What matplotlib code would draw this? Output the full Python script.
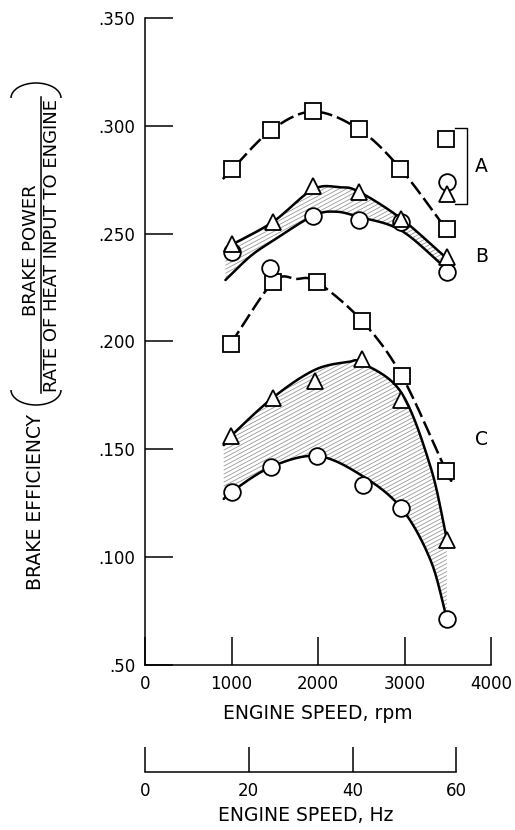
import numpy as np
import matplotlib
matplotlib.use('Agg')
import matplotlib.pyplot as plt
from matplotlib.patches import Arc
from matplotlib.lines import Line2D
from matplotlib.collections import LineCollection

plt.rcParams['font.family'] = ['DejaVu Sans']

# --- measured points (engine speed rpm, brake efficiency) ---
rpm_a_sq = [1010, 1460, 1940, 2470, 2950, 3490]
eff_a_sq = [0.280, 0.298, 0.307, 0.2985, 0.280, 0.252]

rpm_b_tri = [1010, 1480, 1940, 2470, 2960, 3490]
eff_b_tri = [0.245, 0.2555, 0.272, 0.2695, 0.257, 0.239]

rpm_b_cir = [1010, 1940, 2470, 2960, 3490]
eff_b_cir = [0.2415, 0.258, 0.2565, 0.2555, 0.232]

rpm_extra_cir = [1450]
eff_extra_cir = [0.234]

rpm_c_sq = [990, 1480, 1990, 2510, 2970, 3480]
eff_c_sq = [0.199, 0.2275, 0.2275, 0.2095, 0.184, 0.140]

rpm_c_tri = [990, 1480, 1960, 2510, 2960, 3490]
eff_c_tri = [0.156, 0.174, 0.1815, 0.192, 0.173, 0.108]

rpm_c_cir = [1000, 1460, 1990, 2520, 2960, 3490]
eff_c_cir = [0.130, 0.142, 0.147, 0.1335, 0.123, 0.0715]

# --- faired curves ---
curve_a_rpm = [900, 1010, 1460, 1940, 2470, 2950, 3490, 3560]
curve_a_eff = [0.2753, 0.280, 0.298, 0.3066, 0.2985, 0.2803, 0.2517, 0.2485]

curve_b_up_rpm = [930, 1010, 1480, 1940, 2250, 2470, 2960, 3490]
curve_b_up_eff = [0.2425, 0.245, 0.2555, 0.2705, 0.2715, 0.2695, 0.257, 0.2385]

curve_b_low_rpm = [930, 1214, 1470, 1940, 2200, 2470, 2960, 3490]
curve_b_low_eff = [0.2285, 0.2394, 0.2465, 0.2582, 0.2602, 0.2578, 0.2515, 0.2335]

curve_c_sq_rpm = [990, 1480, 1750, 1990, 2510, 2970, 3480, 3546]
curve_c_sq_eff = [0.199, 0.2275, 0.229, 0.2275, 0.2095, 0.184, 0.140, 0.1358]

curve_c_up_rpm = [910, 990, 1480, 1960, 2350, 2510, 2960, 3300, 3490]
curve_c_up_eff = [0.152, 0.156, 0.174, 0.1868, 0.1905, 0.190, 0.1765, 0.1420, 0.1083]

curve_c_low_rpm = [910, 1000, 1460, 1990, 2500, 2960, 3300, 3490]
curve_c_low_eff = [0.127, 0.1303, 0.1419, 0.1469, 0.138, 0.1229, 0.0987, 0.0713]

yticks = [0.05, 0.10, 0.15, 0.20, 0.25, 0.30, 0.35]
ytick_labels = ['.50', '.100', '.150', '.200', '.250', '.300', '.350']
xticks = [0, 1000, 2000, 3000, 4000]
hz_ticks = [0, 20, 40, 60]

W, H = 515, 830
FS_TICK = 12
FS_LAB = 13.5
FS_FRAC = 13


def fx(x):
    return x / W


def fy(y):
    return 1 - y / H


def smooth(xs, ys, n=30):
    # Catmull-Rom through the traced points
    p = np.column_stack([xs, ys]).astype(float)
    p = np.vstack([2 * p[0] - p[1], p, 2 * p[-1] - p[-2]])
    t = np.linspace(0, 1, n, endpoint=False)[:, None]
    out = []
    for i in range(1, len(p) - 2):
        p0, p1, p2, p3 = p[i - 1], p[i], p[i + 1], p[i + 2]
        out.append(0.5 * (2 * p1 + (-p0 + p2) * t
                          + (2 * p0 - 5 * p1 + 4 * p2 - p3) * t ** 2
                          + (-p0 + 3 * p1 - 3 * p2 + p3) * t ** 3))
    out.append(p[-2][None])
    out = np.vstack(out)
    return out[:, 0], out[:, 1]


fig = plt.figure(figsize=(W / 100, H / 100), dpi=100)
fig.patch.set_facecolor('white')
ax = fig.add_axes([fx(145), fy(665), 346 / W, 647 / H])


def hatch_region(upper, lower):
    x1, y1 = smooth(*upper)
    x2, y2 = smooth(*lower)
    poly = ax.fill(np.r_[x1, x2[::-1]], np.r_[y1, y2[::-1]],
                   facecolor='none', edgecolor='none')[0]
    slope = 346 / 647 * np.tan(np.radians(28))
    offs = np.arange(-1.0, 1.2, 4 / 647)
    segs = [[(0, c), (1, c + slope)] for c in offs]
    lc = LineCollection(segs, colors='#9a9a9a', linewidths=0.6,
                        transform=ax.transAxes, zorder=1)
    ax.add_collection(lc)
    lc.set_clip_path(poly)


hatch_region((curve_b_up_rpm, curve_b_up_eff), (curve_b_low_rpm, curve_b_low_eff))
hatch_region((curve_c_up_rpm, curve_c_up_eff), (curve_c_low_rpm, curve_c_low_eff))

dash = (0, (6, 2))
for cx, cy, ls in [(curve_a_rpm, curve_a_eff, dash),
                   (curve_c_sq_rpm, curve_c_sq_eff, dash),
                   (curve_b_up_rpm, curve_b_up_eff, '-'),
                   (curve_b_low_rpm, curve_b_low_eff, '-'),
                   (curve_c_up_rpm, curve_c_up_eff, '-'),
                   (curve_c_low_rpm, curve_c_low_eff, '-')]:
    sx, sy = smooth(cx, cy)
    ax.plot(sx, sy, color='black', lw=1.8, linestyle=ls, zorder=2,
            solid_capstyle='round')

mk = dict(mfc='white', mec='black', mew=1.3, linestyle='none', zorder=3,
          clip_on=False)
ax.plot(rpm_a_sq, eff_a_sq, 's', ms=11, **mk)
ax.plot(rpm_c_sq, eff_c_sq, 's', ms=11, **mk)
ax.plot(rpm_b_cir, eff_b_cir, 'o', ms=12, **mk)
ax.plot(rpm_extra_cir, eff_extra_cir, 'o', ms=12, **mk)
ax.plot(rpm_c_cir, eff_c_cir, 'o', ms=12, **mk)
ax.plot(rpm_b_tri, eff_b_tri, '^', ms=12, **mk)
ax.plot(rpm_c_tri, eff_c_tri, '^', ms=12, **mk)

# key at upper right
ax.plot([0.870], [0.813], 's', ms=11, transform=ax.transAxes, **mk)
ax.plot([0.872], [0.7465], 'o', ms=12, transform=ax.transAxes, **mk)
ax.plot([0.872], [0.728], '^', ms=12, transform=ax.transAxes, **mk)
ax.plot([0.896, 0.930, 0.930, 0.896], [0.830, 0.830, 0.713, 0.713],
        color='black', lw=1.0, transform=ax.transAxes, clip_on=False)
ax.text(0.9725, 0.770, 'A', transform=ax.transAxes, ha='center', va='center', fontsize=FS_LAB)
ax.text(0.9725, 0.631, 'B', transform=ax.transAxes, ha='center', va='center', fontsize=FS_LAB)
ax.text(0.9725, 0.348, 'C', transform=ax.transAxes, ha='center', va='center', fontsize=FS_LAB)

ax.set_xlim(0, 4000)
ax.set_ylim(0.05, 0.35)
ax.set_xticks(xticks)
ax.set_xticklabels([str(t) for t in xticks])
ax.set_yticks(yticks)
ax.set_yticklabels(ytick_labels)
ax.tick_params(direction='in', length=20, width=1.1, pad=7, labelsize=FS_TICK)
for s in ['top', 'right']:
    ax.spines[s].set_visible(False)
for s in ['left', 'bottom']:
    ax.spines[s].set_linewidth(1.1)
ax.patch.set_visible(False)

fig.text(fx(318), fy(713), 'ENGINE SPEED, rpm', ha='center', va='center', fontsize=FS_LAB)

# second scale in Hz
ax2 = fig.add_axes([fx(145), fy(772), 346 / W, 0.0001])
ax2.set_xlim(0, 4000 / 60)
ax2.set_ylim(0, 1)
ax2.set_xticks(hz_ticks)
ax2.set_xticklabels([str(t) for t in hz_ticks])
ax2.set_yticks([])
ax2.tick_params(axis='x', direction='in', length=18, width=1.1, pad=7, labelsize=FS_TICK)
for s in ['top', 'right', 'left']:
    ax2.spines[s].set_visible(False)
ax2.spines['bottom'].set_bounds(0, 60)
ax2.spines['bottom'].set_linewidth(1.1)
ax2.patch.set_visible(False)
fig.text(fx(306), fy(815), 'ENGINE SPEED, Hz', ha='center', va='center', fontsize=FS_LAB)

# y label: BRAKE EFFICIENCY (BRAKE POWER / RATE OF HEAT INPUT TO ENGINE)
fig.text(fx(36), fy(502), 'BRAKE EFFICIENCY', rotation=90, ha='center', va='center', fontsize=FS_LAB)
fig.text(fx(31), fy(250), 'BRAKE POWER', rotation=90, ha='center', va='center', fontsize=FS_FRAC)
fig.text(fx(52), fy(245), 'RATE OF HEAT INPUT TO ENGINE', rotation=90, ha='center',
         va='center', fontsize=FS_FRAC)
fig.add_artist(Line2D([fx(41), fx(41)], [fy(97), fy(393)], transform=fig.transFigure,
                      color='black', lw=1.1))
fig.add_artist(Arc((fx(36), fy(98)), 50 / W, 30 / H, theta1=0, theta2=180,
                   transform=fig.transFigure, color='black', lw=1.1))
fig.add_artist(Arc((fx(36), fy(390)), 50 / W, 30 / H, theta1=180, theta2=360,
                   transform=fig.transFigure, color='black', lw=1.1))

fig.savefig('out.png', dpi=100)
